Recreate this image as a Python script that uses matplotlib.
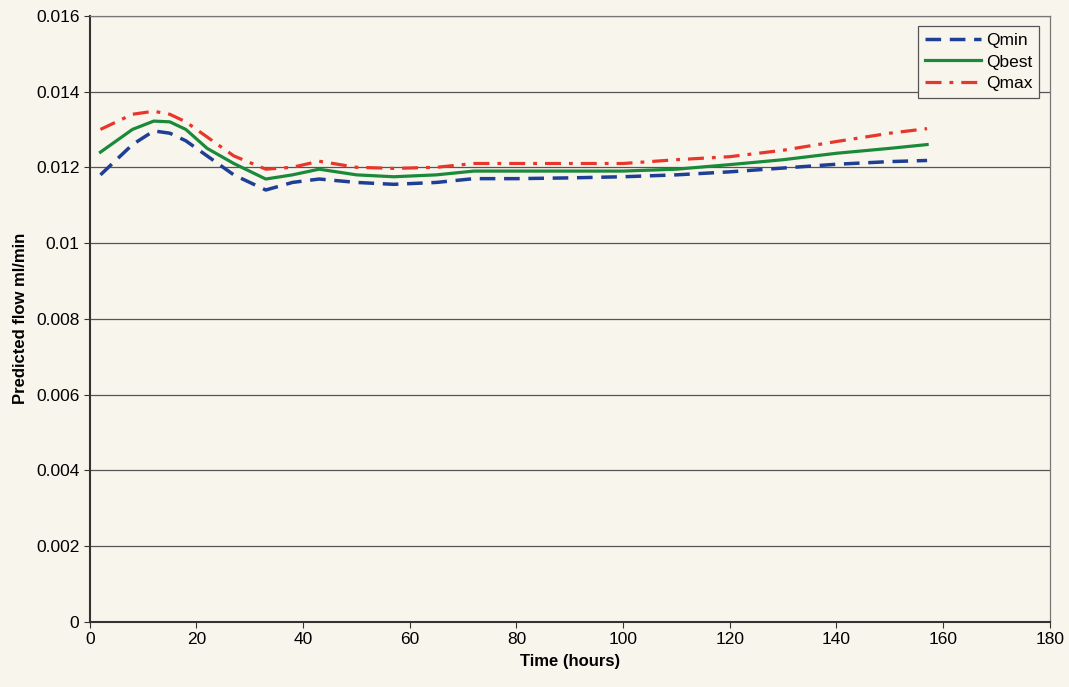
import numpy as np
import matplotlib.pyplot as plt

plt.rcParams['font.family'] = ['Liberation Sans', 'DejaVu Sans']

# time (hours) and predicted flows
hours = [2, 5, 8, 12, 15, 18, 22, 27, 33, 38, 43, 50, 57, 65, 72, 80, 90, 100, 110, 120, 130, 140, 150, 157]
q_min = [0.0118, 0.0122, 0.0126, 0.01296, 0.0129, 0.0127, 0.0123, 0.0118, 0.0114, 0.0116, 0.01169, 0.0116,
         0.01155, 0.0116, 0.0117, 0.0117, 0.01172, 0.01175, 0.0118, 0.01188, 0.01198, 0.01208, 0.01215, 0.01218]
q_best = [0.0124, 0.0127, 0.0130, 0.01322, 0.0132, 0.0130, 0.0125, 0.0121, 0.01169, 0.0118, 0.01195, 0.0118,
          0.01175, 0.0118, 0.0119, 0.0119, 0.0119, 0.0119, 0.01195, 0.01207, 0.0122, 0.01237, 0.0125, 0.0126]
q_max = [0.0130, 0.0132, 0.0134, 0.01348, 0.0134, 0.0132, 0.0128, 0.0123, 0.01195, 0.0120, 0.01216, 0.0120,
         0.01197, 0.0120, 0.0121, 0.0121, 0.0121, 0.0121, 0.0122, 0.01228, 0.01245, 0.01268, 0.0129, 0.01302]

y_ticks = [0, 0.002, 0.004, 0.006, 0.008, 0.01, 0.012, 0.014, 0.016]
y_labels = ['0', '0.002', '0.004', '0.006', '0.008', '0.01', '0.012', '0.014', '0.016']

bg = '#f8f5ec'
fig = plt.figure(figsize=(10.69, 6.87), dpi=100, facecolor=bg)
ax = fig.add_axes([0.084, 0.095, 0.898, 0.882], facecolor=bg)

ax.plot(hours, q_min, color='#1f3f95', lw=2.5, ls=(0, (4.5, 2.5)), label='Qmin')
ax.plot(hours, q_best, color='#1a8a3a', lw=2.3, ls='-', label='Qbest')
ax.plot(hours, q_max, color='#e8362a', lw=2.3, ls=(0, (5, 2.5, 1.2, 2.5)), label='Qmax')

ax.set_xlim(0, 180)
ax.set_ylim(0, 0.016)
ax.set_xticks(range(0, 181, 20))
ax.set_yticks(y_ticks)
ax.set_yticklabels(y_labels)
ax.grid(axis='y', color='#555555', lw=0.9)
ax.set_axisbelow(True)
ax.tick_params(labelsize=12.5, length=4, color='#333333')

for s in ['top', 'right']:
    ax.spines[s].set_color('#777777')
    ax.spines[s].set_linewidth(0.9)
for s in ['left', 'bottom']:
    ax.spines[s].set_color('#333333')
    ax.spines[s].set_linewidth(1.5)

ax.set_xlabel('Time (hours)', fontsize=12, fontweight='bold', labelpad=5)
ax.set_ylabel('Predicted flow ml/min', fontsize=12, fontweight='bold', labelpad=6)

leg = ax.legend(loc='upper right', fontsize=12.5, frameon=True, fancybox=False,
                edgecolor='#555555', facecolor=bg, framealpha=1,
                handlelength=3.2, handletextpad=0.3, borderaxespad=0.6, labelspacing=0.35)
leg.get_frame().set_linewidth(0.9)

fig.savefig('out.png', dpi=100, facecolor=bg)
